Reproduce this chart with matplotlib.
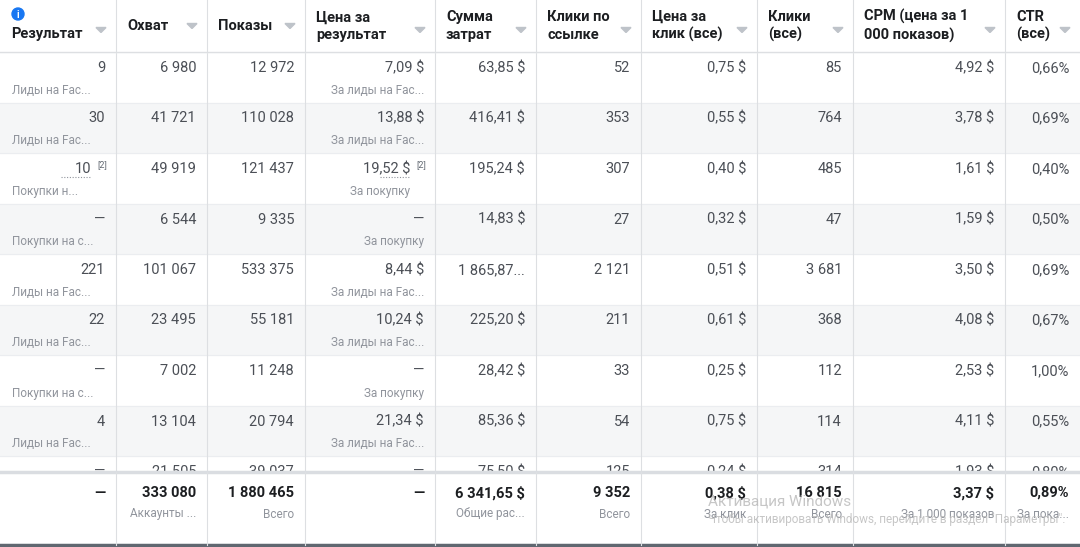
import matplotlib
matplotlib.use("Agg")
import matplotlib.pyplot as plt
from matplotlib.patches import Rectangle, Polygon

plt.rcParams["font.family"] = "Roboto"

headers = ["Результат", "Охват", "Показы", "Цена за\nрезультат", "Сумма\nзатрат",
           "Клики по\nссылке", "Цена за\nклик (все)", "Клики\n(все)",
           "CPM (цена за 1\n000 показов)", "CTR\n(все)"]
results = ["9", "30", "10", "—", "221", "22", "—", "4", "—"]
result_sub = ["Лиды на Fac...", "Лиды на Fac...", "Покупки н...", "Покупки на с...",
              "Лиды на Fac...", "Лиды на Fac...", "Покупки на с...", "Лиды на Fac...", ""]
reach = ["6 980", "41 721", "49 919", "6 544", "101 067", "23 495", "7 002", "13 104", "21 505"]
impressions = ["12 972", "110 028", "121 437", "9 335", "533 375", "55 181", "11 248", "20 794", "39 037"]
cost_per_result = ["7,09 $", "13,88 $", "19,52 $", "—", "8,44 $", "10,24 $", "—", "21,34 $", "—"]
cpr_sub = ["За лиды на Fac...", "За лиды на Fac...", "За покупку", "За покупку",
           "За лиды на Fac...", "За лиды на Fac...", "За покупку", "За лиды на Fac...", ""]
spend = ["63,85 $", "416,41 $", "195,24 $", "14,83 $", "1 865,87...", "225,20 $", "28,42 $", "85,36 $", "75,50 $"]
link_clicks = ["52", "353", "307", "27", "2 121", "211", "33", "54", "125"]
cpc = ["0,75 $", "0,55 $", "0,40 $", "0,32 $", "0,51 $", "0,61 $", "0,25 $", "0,75 $", "0,24 $"]
clicks = ["85", "764", "485", "47", "3 681", "368", "112", "114", "314"]
cpm = ["4,92 $", "3,78 $", "1,61 $", "1,59 $", "3,50 $", "4,08 $", "2,53 $", "4,11 $", "1,93 $"]
ctr = ["0,66%", "0,69%", "0,40%", "0,50%", "0,69%", "0,67%", "1,00%", "0,55%", "0,80%"]
notes = {(2, 0): "[2]", (2, 3): "[2]"}
totals = ["—", "333 080", "1 880 465", "—", "6 341,65 $", "9 352", "0,38 $", "16 815", "3,37 $", "0,89%"]
totals_sub = ["", "Аккаунты ...", "Всего", "", "Общие рас...", "Всего", "За клик", "Всего", "За 1 000 показов", "За пока..."]

cols = [0, 116, 207, 305, 435, 536, 641, 757, 853, 1005, 1080]
header_h = 52
row_h = 50.5
total_top = 472

fig = plt.figure(figsize=(10.8, 5.47), dpi=100)
ax = fig.add_axes([0, 0, 1, 1])
ax.set_xlim(0, 1080)
ax.set_ylim(547, 0)
ax.axis("off")

grid = "#dddfe2"
main = "#1c1e21"
sub = "#90949c"

data_cols = [results, reach, impressions, cost_per_result, spend, link_clicks, cpc, clicks, cpm, ctr]
subs = {0: result_sub, 3: cpr_sub}

for r in range(len(reach)):
    y0 = header_h + r * row_h
    if r % 2 == 1:
        ax.add_patch(Rectangle((0, y0), 1080, row_h, color="#f5f6f7", zorder=0))
    ax.plot([0, 1080], [y0, y0], color="#ebedf0", lw=0.8, zorder=1)
    for c, vals in enumerate(data_cols):
        xr = cols[c + 1] - 11
        if (r, c) in notes:
            ax.text(xr + 2, y0 + 12, notes[(r, c)], ha="right", va="center", fontsize=6.5,
                    color="#606770", zorder=2)
            xr -= 14
            ax.plot([xr - 30, xr], [y0 + 24, y0 + 24], color="#90949c", lw=0.8,
                    ls=(0, (1, 1.5)), zorder=2)
        ax.text(xr, y0 + 16, vals[r], ha="right", va="center", fontsize=10.5, color="#4b4f56", zorder=2)
        if c in subs and subs[c][r]:
            ax.text(cols[c + 1] - 11 - (14 if (r, c) in notes and c != 0 else 0) if c != 0 else cols[c] + 12,
                    y0 + 38, subs[c][r],
                    ha="right" if c != 0 else "left", va="center", fontsize=8.5, color=sub, zorder=2)

for x in cols[1:-1]:
    ax.plot([x, x], [0, 547], color=grid, lw=0.8, zorder=3)

ax.add_patch(Rectangle((0, 0), 1080, header_h, color="white", zorder=4))
for x in cols[1:-1]:
    ax.plot([x, x], [0, header_h], color=grid, lw=0.8, zorder=5)
ax.plot([0, 1080], [header_h, header_h], color=grid, lw=1, zorder=5)
for c, h in enumerate(headers):
    x = cols[c] + 11
    if "\n" in h:
        ax.text(x, 26, h, ha="left", va="center", fontsize=10.5, fontweight="bold",
                color=main, linespacing=1.3, zorder=6)
    else:
        yy = 34 if c == 0 else 26
        ax.text(x, yy, h, ha="left", va="center", fontsize=10.5, fontweight="bold", color=main, zorder=6)
    ax_ = cols[c + 1] - 15
    ay = 30 if c in (0, 3, 4, 5, 6, 7, 8, 9) else 26
    ax.add_patch(Polygon([[ax_ - 5, ay - 2.5], [ax_ + 5, ay - 2.5], [ax_, ay + 2.5]],
                         color="#bec3c9", zorder=6))
ax.add_patch(plt.Circle((18, 14), 6, color="#1877f2", zorder=6))
ax.text(18, 14.5, "i", ha="center", va="center", fontsize=7, fontweight="bold", color="white", zorder=7)

ax.add_patch(Rectangle((0, total_top), 1080, 547 - total_top, color="white", zorder=4))
ax.plot([0, 1080], [total_top, total_top], color="#dadde1", lw=2.5, zorder=5)
ax.plot([0, 1080], [545, 545], color="#606770", lw=2.5, zorder=5)
for x in cols[1:-1]:
    ax.plot([x, x], [total_top, 545], color=grid, lw=0.8, zorder=5)
for c in range(10):
    xr = cols[c + 1] - 11
    ax.text(xr, 493, totals[c], ha="right", va="center", fontsize=10.5, fontweight="bold", color=main, zorder=6)
    if totals_sub[c]:
        ax.text(xr, 514, totals_sub[c], ha="right", va="center", fontsize=8.5, color=sub, zorder=6)

ax.text(708, 501, "Активация Windows", ha="left", va="center", fontsize=11, color="#b8b8b8", alpha=0.8, zorder=7)
ax.text(708, 519, "Чтобы активировать Windows, перейдите в раздел \"Параметры\".",
        ha="left", va="center", fontsize=8.5, color="#b8b8b8", alpha=0.8, zorder=7, clip_on=True)

fig.savefig("out.png", dpi=100)
